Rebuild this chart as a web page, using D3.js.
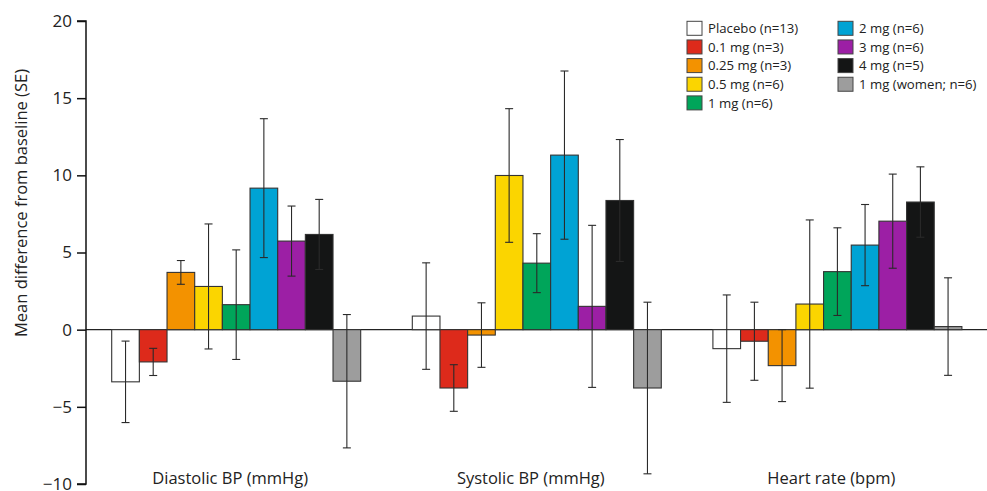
<!DOCTYPE html>
<html><head><meta charset="utf-8">
<script src="https://cdn.jsdelivr.net/npm/d3@7"></script>
<style>
html,body{margin:0;padding:0;background:#fff;}
svg{display:block;font-family:"Open Sans",sans-serif;}
</style></head>
<body><svg id="chart" width="987" height="491"></svg>
<script>
const categories = ["Diastolic BP (mmHg)", "Systolic BP (mmHg)", "Heart rate (bpm)"];
const seriesNames = ["Placebo (n=13)", "0.1 mg (n=3)", "0.25 mg (n=3)", "0.5 mg (n=6)", "1 mg (n=6)", "2 mg (n=6)", "3 mg (n=6)", "4 mg (n=5)", "1 mg (women; n=6)"];
const seriesColors = ["#ffffff", "#dd2a1b", "#f39200", "#fbd500", "#00a55a", "#00a3d4", "#9c1fa5", "#141515", "#9d9d9d"];
// mean values per category, in series order
const diastolicMean = [-3.38, -2.09, 3.71, 2.80, 1.62, 9.17, 5.74, 6.17, -3.34];
const diastolicSE   = [2.64, 0.88, 0.77, 4.05, 3.55, 4.50, 2.27, 2.27, 4.32];
const systolicMean  = [0.88, -3.78, -0.35, 9.99, 4.31, 11.31, 1.51, 8.37, -3.78];
const systolicSE    = [3.45, 1.51, 2.09, 4.33, 1.91, 5.45, 5.25, 3.95, 5.56];
const heartMean     = [-1.23, -0.75, -2.33, 1.66, 3.76, 5.48, 7.03, 8.27, 0.20];
const heartSE       = [3.48, 2.53, 2.33, 5.45, 2.84, 2.63, 3.05, 2.28, 3.16];
const yTicks = [-10, -5, 0, 5, 10, 15, 20];
const yTickLabels = ["\u221210", "\u22125", "0", "5", "10", "15", "20"];
const yTitle = "Mean difference from baseline (SE)";

const means = [diastolicMean, systolicMean, heartMean];
const ses = [diastolicSE, systolicSE, heartSE];

const svg = d3.select("#chart");
const y = d3.scaleLinear().domain([-10, 20]).range([484, 21]);
const x0 = d3.scaleBand().domain(categories).range([111.7, 961.9]).paddingInner(0.1717).paddingOuter(0);
const x1 = d3.scaleBand().domain(seriesNames).range([0, x0.bandwidth()]).padding(0);

// zero line
svg.append("line").attr("x1", 86).attr("x2", 987).attr("y1", y(0)).attr("y2", y(0))
  .attr("stroke", "#222").attr("stroke-width", 1.3);

// bars
categories.forEach((c, ci) => {
  const g = svg.append("g").attr("transform", `translate(${x0(c)},0)`);
  seriesNames.forEach((s, si) => {
    const v = means[ci][si];
    g.append("rect")
      .attr("x", x1(s)).attr("width", x1.bandwidth())
      .attr("y", y(Math.max(0, v))).attr("height", Math.abs(y(v) - y(0)))
      .attr("fill", seriesColors[si]).attr("stroke", "#333").attr("stroke-width", 1.1);
  });
  seriesNames.forEach((s, si) => {
    const v = means[ci][si], e = ses[ci][si];
    const cx = x1(s) + x1.bandwidth() / 2;
    const eg = g.append("g").attr("stroke", "#2a2a2a").attr("stroke-width", 1.1);
    eg.append("line").attr("x1", cx).attr("x2", cx).attr("y1", y(v + e)).attr("y2", y(v - e));
    eg.append("line").attr("x1", cx - 4).attr("x2", cx + 4).attr("y1", y(v + e)).attr("y2", y(v + e));
    eg.append("line").attr("x1", cx - 4).attr("x2", cx + 4).attr("y1", y(v - e)).attr("y2", y(v - e));
  });
  svg.append("text").attr("x", x0(c) + x0.bandwidth() / 2 - 6).attr("y", 484)
    .attr("text-anchor", "middle").attr("font-size", 16.5).attr("fill", "#222").text(c);
});

// y axis
const yAxis = d3.axisLeft(y).tickValues(yTicks).tickSize(9).tickPadding(5)
  .tickFormat((d, i) => yTickLabels[i]);
const ya = svg.append("g").attr("transform", "translate(86,0)").call(yAxis);
ya.select(".domain").attr("stroke", "#111").attr("stroke-width", 1.5).attr("d", `M-9,${y(20)}H0V${y(-10)}H-9`);
ya.selectAll(".tick line").attr("stroke", "#111").attr("stroke-width", 1.5);
ya.selectAll(".tick text").attr("font-size", 17).attr("fill", "#222")
  .attr("font-family", "'Open Sans',sans-serif");

svg.append("text").attr("transform", "translate(27,203) rotate(-90)")
  .attr("text-anchor", "middle").attr("font-size", 16.5).attr("fill", "#222").text(yTitle);

// legend
const legCols = [[0, 5], [5, 9]];
const legX = [687, 838];
legCols.forEach((r, col) => {
  for (let i = r[0]; i < r[1]; i++) {
    const row = i - r[0];
    const cy = 28.3 + row * 18.65;
    svg.append("rect").attr("x", legX[col]).attr("y", cy - 7).attr("width", 15).attr("height", 14)
      .attr("fill", seriesColors[i]).attr("stroke", "#444").attr("stroke-width", 1);
    svg.append("text").attr("x", legX[col] + 21).attr("y", cy).attr("dy", "0.35em")
      .attr("font-size", 13.2).attr("fill", "#222").text(seriesNames[i]);
  }
});
</script>
</body></html>
